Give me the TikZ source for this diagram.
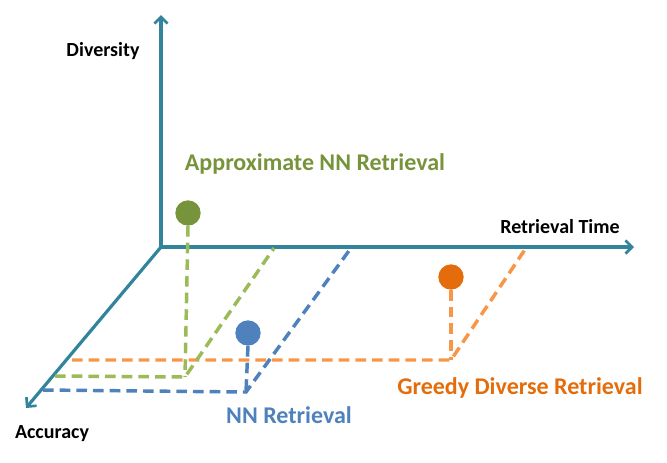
\documentclass[tikz,border=0pt]{standalone}
\usepackage{fontspec}
\setmainfont{Carlito}
\usetikzlibrary{arrows.meta}
\definecolor{axisc}{HTML}{31849B}
\definecolor{gdot}{HTML}{77933C}
\definecolor{gline}{HTML}{9BBB59}
\definecolor{bdot}{HTML}{4F81BD}
\definecolor{bline}{HTML}{4F81BD}
\definecolor{odot}{HTML}{E46C0A}
\definecolor{oline}{HTML}{F79646}
\begin{document}
\begin{tikzpicture}[x=0.75pt,y=-0.75pt,
  axis/.style={draw=axisc,line width=2.4pt,-{Straight Barb[length=5pt,width=10pt,line width=2pt]}},
  dline/.style={line width=2.6pt,dash pattern=on 8pt off 4.5pt},
  dot/.style={circle,minimum size=19pt,inner sep=0pt},
  lbl/.style={font=\bfseries\fontsize{15}{18}\selectfont,text=black},
  clbl/.style={font=\bfseries\fontsize{18}{22}\selectfont}]
\useasboundingbox (0,0) rectangle (667,462);
% axes
\coordinate (O) at (161,247);
\coordinate (Dtop) at (161,15);
\coordinate (Rend) at (634,247);
\coordinate (Aend) at (26,408);
\draw[axis] (O) -- (Dtop);
\draw[axis] (O) -- (Rend);
\draw[axis] (O) -- (Aend);
% corners
\coordinate (gc) at (185,377);
\coordinate (bc) at (246,392);
\coordinate (oc) at (451,360);
\coordinate (gx) at (274,248);
\coordinate (bx) at (351,248);
\coordinate (ox) at (526,248);
\coordinate (gl) at (55,376);
\coordinate (bl) at (43,390);
\coordinate (ol) at (72,360);
% dots
\node[dot,fill=gdot] (g) at (188,213) {};
\node[dot,fill=bdot] (b) at (248,333) {};
\node[dot,fill=odot] (o) at (451,277) {};
% dashed projections
\draw[dline,draw=oline] (ol) -- (oc) -- (ox);
\draw[dline,draw=oline] (o.south) -- (oc);
\draw[dline,draw=gline] (gl) -- (gc) -- (gx);
\draw[dline,draw=gline] (g.south) -- (gc);
\draw[dline,draw=bline] (bl) -- (bc) -- (bx);
\draw[dline,draw=bline] (b.south) -- (bc);
% labels
\node[lbl] (ld) at (103,51) {Diversity};
\node[lbl] (lr) at (560,227) {Retrieval Time};
\node[lbl] (la) at (52,434) {Accuracy};
\node[clbl,text=gdot] (lg) at (315,164) {Approximate NN Retrieval};
\node[clbl,text=bdot] (lb) at (289,415) {NN Retrieval};
\node[clbl,text=odot] (lo) at (520,388) {Greedy Diverse Retrieval};
\end{tikzpicture}
\end{document}
